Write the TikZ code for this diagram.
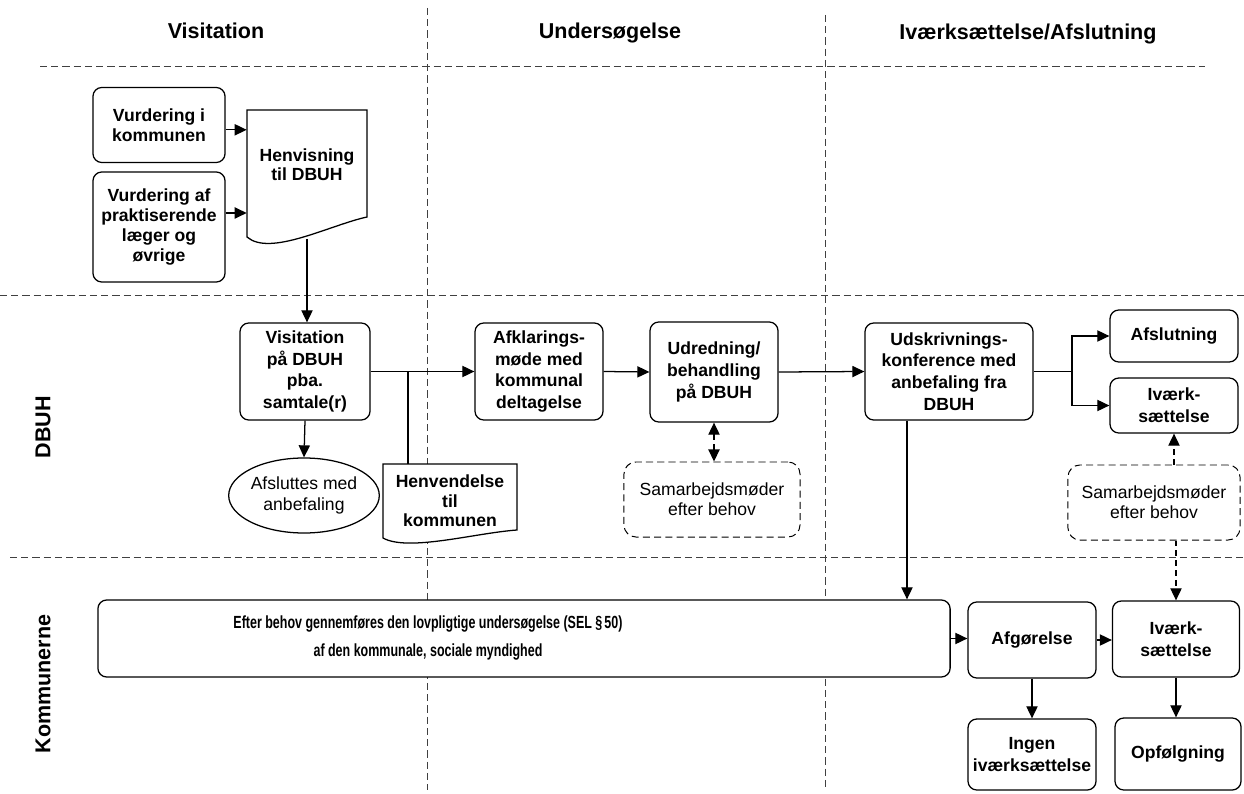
\documentclass[tikz,border=0pt]{standalone}
\usepackage{fontspec}
\setmainfont{Liberation Sans}
\usetikzlibrary{arrows.meta,shapes.geometric,positioning}

\tikzset{
  proc/.style={draw, fill=white, rounded corners=0.22cm, line width=0.9pt, align=center,
    inner sep=0pt, font=\bfseries\fontsize{12.5}{15.5}\selectfont},
  tight/.style={font=\bfseries\fontsize{12.5}{14}\selectfont},
  doctext/.style={align=center, inner sep=0pt, font=\bfseries\fontsize{12.5}{13.8}\selectfont},
  docshape/.style={draw, fill=white, line width=0.9pt},
  meetbox/.style={draw, fill=white, dash pattern=on 5pt off 3pt, rounded corners=0.3cm,
    line width=0.7pt, align=center, inner sep=0pt, font=\fontsize{12.5}{14.5}\selectfont},
  headline/.style={font=\bfseries\fontsize{15.3}{18}\selectfont},
  sepline/.style={black!75, line width=0.6pt, dash pattern=on 5pt off 3pt},
  arr/.style={line width=0.9pt, -{Triangle[length=3mm,width=2.8mm]}},
  darr/.style={arr, dash pattern=on 4pt off 3pt},
}

\begin{document}
\begin{tikzpicture}[x=0.025cm, y=-0.025cm]
        \useasboundingbox (0,0) rectangle (1244,794);

        % Draw the lanes
        \draw[sepline] (40,66) -- (1205,66);
        \draw[sepline] (0,295) -- (1244,295);
        \draw[sepline] (10,557) -- (1244,557);
        \draw[sepline] (427,8) -- (427,790);
        \draw[sepline] (825,15) -- (825,790);

        \node[headline, anchor=base] (hvis) at (216,39) {Visitation};
        \node[headline, anchor=base] (hund) at (610,39) {Undersøgelse};
        \node[headline, anchor=base] (hivk) at (1028,40) {Iværksættelse/Afslutning};
        \node[headline, rotate=90] (ldbuh) at (43,427) {DBUH};
        \node[headline, rotate=90] (lkomm) at (43,684) {Kommunerne};

        % Visitation
        \node[proc, tight, minimum width=3.3cm, minimum height=1.875cm] (vkomm) at (159,125) {Vurdering i\\kommunen};
        \node[proc, tight, minimum width=3.3cm, minimum height=2.75cm] (vlaeg) at (159,227) {Vurdering af\\praktiserende\\læger og\\øvrige};

        \draw[docshape] (247,110) -- (367,110) -- (367,217) .. controls (330,225) and (270,257) .. (247,237) -- cycle;
        \node[doctext, minimum width=3cm, minimum height=2.675cm] (henv) at (307,165) {Henvisning\\til DBUH};
        \coordinate (henvtail) at (307,239);

        \node[proc, minimum width=3.25cm, minimum height=2.425cm] (visit) at (305,371.5) {Visitation\\på DBUH\\pba.\\samtale(r)};
        \node[draw, fill=white, ellipse, line width=0.9pt, minimum width=3.45cm, minimum height=1.875cm, inner sep=0pt,
          align=center, font=\fontsize{12.5}{15.5}\selectfont] (afsl) at (304,495.5) {Afsluttes med\\anbefaling};

        \draw[docshape] (383,464) -- (517,464) -- (517,530) .. controls (475,533) and (408,552) .. (383,538) -- cycle;
        \node[doctext] (kommhenv) at (450,501) {Henvendelse\\til\\kommunen};
        \coordinate (kommtop) at (408,464);

        % Undersøgelse
        \node[proc, minimum width=3.2cm, minimum height=2.425cm] (afkl) at (539,371.5) {Afklarings-\\møde med\\kommunal\\deltagelse};
        \node[proc, minimum width=3.2cm, minimum height=2.5cm] (udred) at (714,372) {Udredning/\\behandling\\på DBUH};
        \node[meetbox, minimum width=4.4cm, minimum height=1.875cm] (samarb1) at (712,499.5) {Samarbejdsmøder\\efter behov};

        % Iværksættelse/Afslutning
        \node[proc, minimum width=4.2cm, minimum height=2.425cm] (udsk) at (949,371.5) {Udskrivnings-\\konference med\\anbefaling fra\\DBUH};
        \node[proc, minimum width=3.2cm, minimum height=1.3cm] (afslut) at (1174,336) {Afslutning};
        \node[proc, minimum width=3.2cm, minimum height=1.375cm] (ivaerk1) at (1174,405.5) {Iværk-\\sættelse};
        \node[meetbox, minimum width=4.3cm, minimum height=1.875cm] (samarb2) at (1154,502.5) {Samarbejdsmøder\\efter behov};

        % Kommunerne
        \node[proc, minimum width=21.3cm, minimum height=1.925cm] (sel) at (524,638.5) {};
        \node[doctext, font=\bfseries\fontsize{12.5}{19.5}\selectfont, xscale=0.71] (seltext) at (428,638)
          {Efter behov gennemføres den lovpligtige undersøgelse (SEL §\,50)\\af den kommunale, sociale myndighed};
        \node[proc, minimum width=3.2cm, minimum height=1.9cm] (afgor) at (1032,640) {Afgørelse};
        \node[proc, minimum width=3.175cm, minimum height=1.9cm] (ivaerk2) at (1176,639) {Iværk-\\sættelse};
        \node[proc, minimum width=3.2cm, minimum height=1.775cm] (ingen) at (1032,754.5) {Ingen\\iværksættelse};
        \node[proc, minimum width=3.15cm, minimum height=1.8cm] (opf) at (1178,754) {Opfølgning};

        % Draw the arrows between the nodes
        \coordinate (vlaegout) at ([yshift=0.35cm]vlaeg.east);
        \coordinate (vkommout) at ([yshift=-0.12cm]vkomm.east);
        \draw[arr] (vkommout) -- (vkommout -| henv.west);
        \draw[arr] (vlaegout) -- (vlaegout -| henv.west);
        \draw[arr] (henvtail) -- (henvtail |- visit.north);
        \draw[arr] (visit.south) -- (afsl.north);
        \draw[arr] (visit.east) -- (afkl.west);
        \draw[line width=0.9pt] (visit.east -| kommtop) -- (kommtop);
        \draw[arr] (afkl.east) -- (udred.west);
        \draw[darr, {Triangle[length=3mm,width=2.8mm]}-{Triangle[length=3mm,width=2.8mm]}] (udred.south) -- (udred.south |- samarb1.north);
        \draw[arr] (udred.east) -- (udsk.west);

        \coordinate (udsksplit) at (1072,371.5);
        \draw[line width=0.9pt] (udsk.east) -- (udsksplit);
        \draw[arr] (udsksplit) |- (afslut.west);
        \draw[arr] (udsksplit) |- (ivaerk1.west);
        \draw[darr] (ivaerk1.south |- samarb2.north) -- (ivaerk1.south);
        \draw[darr] (ivaerk2.north |- samarb2.south) -- (ivaerk2.north);

        \coordinate (udskout) at ([xshift=-1.05cm]udsk.south);
        \draw[arr] (udskout) -- (udskout |- sel.north);
        \draw[arr] (sel.east) -- (sel.east -| afgor.west);
        \draw[arr] (afgor.east) -- (afgor.east -| ivaerk2.west);
        \draw[arr] (afgor.south) -- (ingen.north);
        \draw[arr] (ivaerk2.south) -- (ivaerk2.south |- opf.north);
    \end{tikzpicture}
\end{document}
